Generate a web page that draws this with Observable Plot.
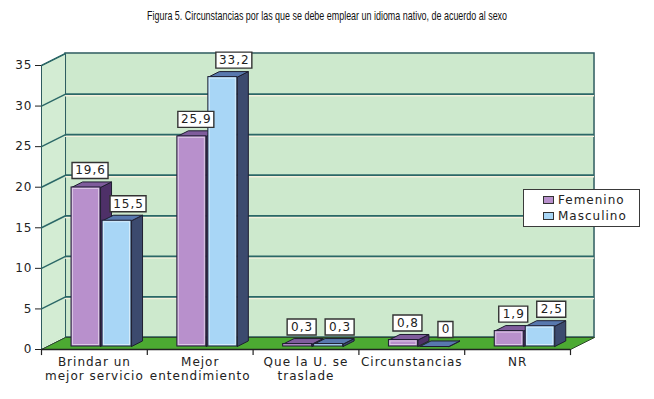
<!DOCTYPE html>
<html><head><meta charset="utf-8">
<script src="https://cdn.jsdelivr.net/npm/d3@7"></script>
<script src="https://cdn.jsdelivr.net/npm/@observablehq/plot@0.6"></script>
<style>
body{margin:0;background:#fff;width:654px;height:399px;overflow:hidden;position:relative;font-family:"DejaVu Sans",sans-serif}
#title{height:30px;line-height:30px;text-align:center;white-space:nowrap;}
#title span{display:inline-block;font-family:"Liberation Sans",sans-serif;font-size:13.5px;color:#111;transform-origin:center center}
#chart svg{display:block}
#chart svg text{letter-spacing:1px}
#legend{position:absolute;left:523px;top:189px;width:115px;height:36px;border:1px solid #3a3a3a;background:#fff;font-size:12px;letter-spacing:1px;color:#222}
.row{position:absolute;left:19px;height:15px;line-height:15px;white-space:nowrap}
.sw{display:inline-block;width:9px;height:6px;border:1px solid #333;margin-right:4px;vertical-align:middle;position:relative;top:-1px}
</style></head><body>
<div id="title"><span id="tt">Figura 5. Circunstancias por las que se debe emplear un idioma nativo, de acuerdo al sexo</span></div>
<div id="chart"></div>
<div id="legend"></div>
<script>
// ---- data ----
const categories = ["Brindar un\nmejor servicio", "Mejor\nentendimiento", "Que la U. se\ntraslade", "Circunstancias", "NR"];
const seriesNames = ["Femenino", "Masculino"];
const femenino = [19.6, 25.9, 0.3, 0.8, 1.9];
const masculino = [15.5, 33.2, 0.3, 0, 2.5];
const femLabels = ["19,6", "25,9", "0,3", "0,8", "1,9"];
const mascLabels = ["15,5", "33,2", "0,3", "0", "2,5"];
const yTicks = [0, 5, 10, 15, 20, 25, 30, 35];

// ---- styles / geometry ----
const colors = {
  Femenino: {front: "#b890cc", top: "#7f5c9c", side: "#4e3068"},
  Masculino: {front: "#a8d6f6", top: "#5878ae", side: "#3c4a6e"}
};
const WALL_DX = 0.227, WALL_DY = 1.48;     // depth of the walls (x units / y units)
const BAR_W = 0.274, BAR_DX = 0.104, BAR_DY = 0.68;
const OFFSET = {Femenino: 0.284, Masculino: 0.577};
const LABEL_DX = {Femenino: 4, Masculino: 11};

const bars = [];
categories.forEach((c, i) => {
  [[seriesNames[0], femenino[i], femLabels[i]], [seriesNames[1], masculino[i], mascLabels[i]]].forEach(([s, v, lab]) => {
    const x1 = i + OFFSET[s];
    bars.push({i, s, v, label: lab, x1, x2: x1 + BAR_W, id: s + i});
  });
});
const sidePts = bars.flatMap(b => [
  {id: b.id, s: b.s, x: b.x2, y: 0},
  {id: b.id, s: b.s, x: b.x2 + BAR_DX, y: BAR_DY},
  {id: b.id, s: b.s, x: b.x2 + BAR_DX, y: b.v + BAR_DY},
  {id: b.id, s: b.s, x: b.x2, y: b.v},
  {id: b.id, s: b.s, x: b.x2, y: 0}
]);
const topPts = bars.flatMap(b => [
  {id: b.id, s: b.s, x: b.x1, y: b.v},
  {id: b.id, s: b.s, x: b.x2, y: b.v},
  {id: b.id, s: b.s, x: b.x2 + BAR_DX, y: b.v + BAR_DY},
  {id: b.id, s: b.s, x: b.x1 + BAR_DX, y: b.v + BAR_DY},
  {id: b.id, s: b.s, x: b.x1, y: b.v}
]);
const n = categories.length, yMax = d3.max(yTicks);
const leftWall = [{x: 0, y: 0}, {x: 0, y: yMax}, {x: WALL_DX, y: yMax + WALL_DY}, {x: WALL_DX, y: WALL_DY}, {x: 0, y: 0}];
const floor = [{x: 0, y: 0}, {x: n, y: 0}, {x: n + WALL_DX, y: WALL_DY}, {x: WALL_DX, y: WALL_DY}, {x: 0, y: 0}];
const boundaries = d3.range(n + 1);

const boxSymbol = {draw(ctx, size) {
  const w = Math.sqrt(size / Math.PI);
  ctx.moveTo(-w, -8); ctx.lineTo(w, -8); ctx.lineTo(w, 8); ctx.lineTo(-w, 8); ctx.closePath();
}};

const marks = [
  // walls & floor
  Plot.rect([0], {x1: WALL_DX, x2: n + WALL_DX, y1: WALL_DY, y2: yMax + WALL_DY, fill: "#cde9cd", stroke: "#2e5c60", strokeWidth: 1.5}),
  Plot.line(leftWall, {x: "x", y: "y", fill: "#d3ecd3", stroke: "#2e5c60", strokeWidth: 1}),
  Plot.ruleY(yTicks.filter(t => t > 0 && t < yMax), {y: t => t + WALL_DY, x1: WALL_DX, x2: n + WALL_DX, stroke: "#f6f0dc", strokeWidth: 1.5, dy: 1.6}),
  Plot.ruleY(yTicks.filter(t => t > 0 && t < yMax), {y: t => t + WALL_DY, x1: WALL_DX, x2: n + WALL_DX, stroke: "#2b6767", strokeWidth: 1.8}),
  Plot.link(yTicks.filter(t => t > 0), {x1: 0, y1: t => t, x2: WALL_DX, y2: t => t + WALL_DY, stroke: "#2b6767", strokeWidth: 1.5}),
  Plot.line(floor, {x: "x", y: "y", fill: "#4caa32", stroke: "#2e4a2a", strokeWidth: 1}),
  // axes
  Plot.ruleY([0], {x1: 0, x2: n, stroke: "#222", strokeWidth: 1.3}),
  Plot.ruleX(boundaries, {y1: 0, y2: -0.75, stroke: "#222", strokeWidth: 1.2}),
  Plot.text(categories, {x: (d, i) => i + 0.5, y: 0, text: d => d, lineAnchor: "top", dy: 7, lineHeight: 1.15, fontSize: 12, fill: "#222"})
];
for (const s of seriesNames) {
  const bs = bars.filter(b => b.s === s);
  marks.push(
    Plot.line(sidePts.filter(p => p.s === s), {x: "x", y: "y", z: "id", fill: colors[s].side, stroke: "#1e1e30", strokeWidth: 1, dy: -3}),
    Plot.line(topPts.filter(p => p.s === s), {x: "x", y: "y", z: "id", fill: colors[s].top, stroke: "#1e1e30", strokeWidth: 1, dy: -3}),
    Plot.rect(bs, {x1: "x1", x2: "x2", y1: 0, y2: "v", fill: colors[s].front, stroke: "#1e1e30", strokeWidth: 1, dy: -3}),
    Plot.rect(bs, {x1: "x1", x2: "x2", y1: 0, y2: "v", fill: "none", stroke: "#ffffff", strokeOpacity: 0.5, strokeWidth: 1, inset: 1.5, dy: -3})
  );
}
for (const s of seriesNames) {
  const bs = bars.filter(b => b.s === s);
  marks.push(
    Plot.dot(bs, {x: d => (d.x1 + d.x2) / 2, y: "v", r: d => (8 + 7 * d.label.length) / 2, symbol: boxSymbol, fill: "#fff", stroke: "#333", strokeWidth: 1.4, dx: LABEL_DX[s], dy: -20}),
    Plot.text(bs, {x: d => (d.x1 + d.x2) / 2, y: "v", text: "label", dx: LABEL_DX[s] + 0.5, dy: -20, fontSize: 12, fill: "#222"})
  );
}

const chart = Plot.plot({
  width: 654, height: 369,
  marginLeft: 41, marginRight: 84, marginTop: 35, marginBottom: 50,
  x: {domain: [0, n], axis: null},
  y: {domain: [0, yMax], ticks: yTicks, tickSize: 6, tickPadding: 3, label: null, line: true, tickFormat: d => String(d)},
  r: {type: "identity"},
  style: {fontFamily: "DejaVu Sans, sans-serif", fontSize: "12px", color: "#222", background: "transparent", overflow: "visible"},
  marks
});
document.getElementById("chart").appendChild(chart);

// legend
const legend = document.getElementById("legend");
seriesNames.forEach((s, k) => {
  const row = document.createElement("div");
  row.className = "row";
  row.style.top = (3 + k * 16) + "px";
  const sw = document.createElement("span");
  sw.className = "sw";
  sw.style.background = colors[s].front;
  row.appendChild(sw);
  row.appendChild(document.createTextNode(s));
  legend.appendChild(row);
});

// fit title width
const tt = document.getElementById("tt");
const w = tt.getBoundingClientRect().width;
tt.style.transform = `scaleX(${360 / w})`;
</script>
</body></html>
